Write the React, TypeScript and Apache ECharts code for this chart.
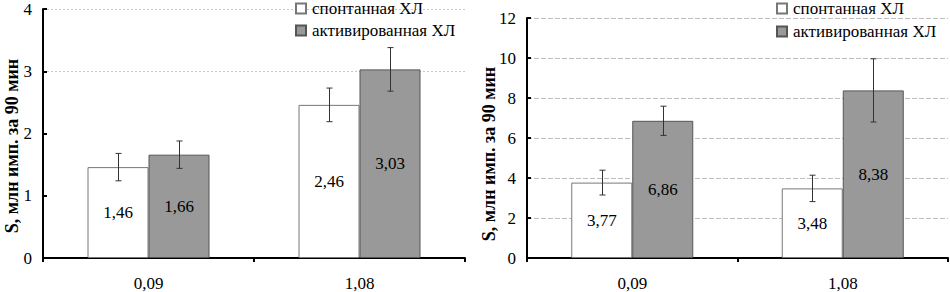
import React, { useEffect, useRef } from "react";
import * as echarts from "echarts";

const categories = ["0,09", "1,08"];
const seriesNames = ["спонтанная ХЛ", "активированная ХЛ"];
const yTitle = "S, млн имп. за 90 мин";

// left panel
const spontLeft = [1.46, 2.46];
const activLeft = [1.66, 3.03];
const errSpontLeft = [0.22, 0.27];
const errActivLeft = [0.22, 0.35];
const yTicksLeft = { min: 0, max: 4, interval: 1 };

// right panel
const spontRight = [3.77, 3.48];
const activRight = [6.86, 8.38];
const errSpontRight = [0.62, 0.66];
const errActivRight = [0.73, 1.58];
const yTicksRight = { min: 0, max: 12, interval: 2 };

const FONT = "Liberation Serif, serif";
const BAR_W = 61;
const GRAY = "#999999";

function fmt(v: number) {
  return v.toFixed(2).replace(".", ",");
}

function errSeries(
  values: number[],
  errs: number[],
  axisIndex: number,
  offset: number
) {
  return {
    type: "custom",
    xAxisIndex: axisIndex,
    yAxisIndex: axisIndex,
    z: 10,
    silent: true,
    clip: false,
    encode: { x: 0, y: [1, 2] },
    data: values.map((v, i) => [i, v - errs[i], v + errs[i]]),
    renderItem: (params: any, api: any) => {
      const cat = api.value(0);
      const lo = api.coord([cat, api.value(1)]);
      const hi = api.coord([cat, api.value(2)]);
      const x = Math.round(lo[0] + offset) + 0.5;
      const cap = 3;
      const st = { stroke: "#333", lineWidth: 1 };
      return {
        type: "group",
        children: [
          { type: "line", shape: { x1: x, y1: hi[1], x2: x, y2: lo[1] }, style: st },
          { type: "line", shape: { x1: x - cap, y1: hi[1], x2: x + cap, y2: hi[1] }, style: st },
          { type: "line", shape: { x1: x - cap, y1: lo[1], x2: x + cap, y2: lo[1] }, style: st },
        ],
      };
    },
  };
}

function barSeries(name: string, data: number[], axisIndex: number, fill: string, border: string) {
  return {
    name,
    type: "bar",
    xAxisIndex: axisIndex,
    yAxisIndex: axisIndex,
    barWidth: BAR_W,
    barGap: "0%",
    data,
    itemStyle: { color: fill, borderColor: border, borderWidth: 1 },
    label: {
      show: true,
      position: "inside",
      formatter: (p: any) => fmt(p.value),
      fontFamily: FONT,
      fontSize: 17,
      color: "#000",
    },
  };
}

function xAxis(gridIndex: number) {
  return {
    type: "category",
    gridIndex,
    data: categories,
    axisLine: { lineStyle: { color: "#000", width: 2 } },
    axisTick: { show: true, inside: false, length: 4, lineStyle: { color: "#000", width: 2 } },
    axisLabel: { color: "#000", fontFamily: FONT, fontSize: 17, margin: 17 },
    splitLine: { show: false },
  };
}

function yAxis(gridIndex: number, t: { min: number; max: number; interval: number }, split: any) {
  return {
    type: "value",
    gridIndex,
    min: t.min,
    max: t.max,
    interval: t.interval,
    axisLine: { show: true, lineStyle: { color: "#000", width: 2 } },
    axisTick: { show: true, inside: true, length: 4, lineStyle: { color: "#000", width: 2 } },
    axisLabel: { color: "#000", fontFamily: FONT, fontSize: 17, margin: 11 },
    splitLine: split,
  };
}

function legend(left: number, top: number, gap: number) {
  return {
    data: seriesNames,
    orient: "vertical",
    left,
    top,
    padding: 0,
    itemGap: gap,
    itemWidth: 10,
    itemHeight: 10,
    icon: "rect",
    selectedMode: false,
    textStyle: { color: "#000", fontFamily: FONT, fontSize: 17, padding: [0, 0, 0, 1] },
  };
}

function title(x: number, y: number) {
  return {
    type: "text",
    x,
    y,
    rotation: Math.PI / 2,
    style: {
      text: yTitle,
      fontFamily: FONT,
      fontWeight: "bold",
      fontSize: 18,
      fill: "#000",
      align: "center",
      verticalAlign: "middle",
    },
  };
}

export default function App() {
  const ref = useRef<HTMLDivElement>(null);
  useEffect(() => {
    document.body.style.margin = "0";
    if (!ref.current) return;
    const chart = echarts.init(ref.current, null, { renderer: "svg" });
    chart.setOption({
      animation: false,
      backgroundColor: "#fff",
      grid: [
        { left: 43, top: 9, width: 422, height: 249 },
        { left: 527, top: 18, width: 421, height: 240 },
      ],
      legend: [legend(295, 0, 5), legend(776, 0, 6)],
      xAxis: [xAxis(0), xAxis(1)],
      yAxis: [
        yAxis(0, yTicksLeft, {
          show: true,
          lineStyle: {
            color: ["transparent", "transparent", "transparent", "#c8c8c8", "#c8c8c8"],
            type: [2, 2],
            width: 1,
          },
        }),
        yAxis(1, yTicksRight, {
          show: true,
          lineStyle: { color: "#bdbdbd", type: [5, 2], width: 1 },
        }),
      ],
      graphic: [title(12, 146), title(489, 154)],
      series: [
        barSeries(seriesNames[0], spontLeft, 0, "#ffffff", "#777777"),
        barSeries(seriesNames[1], activLeft, 0, GRAY, "#555555"),
        barSeries(seriesNames[0], spontRight, 1, "#ffffff", "#777777"),
        barSeries(seriesNames[1], activRight, 1, GRAY, "#555555"),
        errSeries(spontLeft, errSpontLeft, 0, -BAR_W / 2),
        errSeries(activLeft, errActivLeft, 0, BAR_W / 2),
        errSeries(spontRight, errSpontRight, 1, -BAR_W / 2),
        errSeries(activRight, errActivRight, 1, BAR_W / 2),
      ],
    });
    return () => chart.dispose();
  }, []);
  return <div ref={ref} style={{ width: 950, height: 292 }} />;
}
